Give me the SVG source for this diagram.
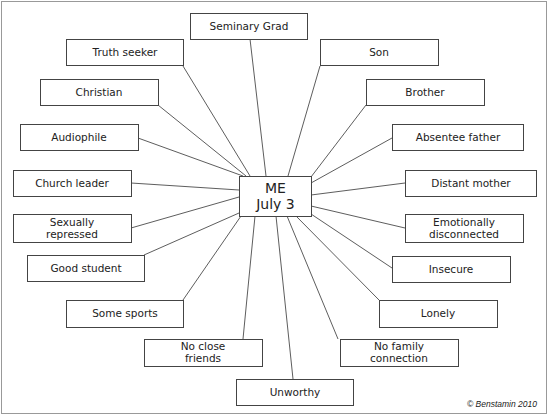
<svg xmlns="http://www.w3.org/2000/svg" width="550" height="419" viewBox="0 0 550 419">
<style>
.b rect{fill:#fff;stroke:#444;stroke-width:1}
.b text{font-family:"DejaVu Sans",sans-serif;font-size:10.5px;fill:#222;text-anchor:middle}
#connectors line{stroke:#333;stroke-width:0.8}
.me text{font-family:"DejaVu Sans",sans-serif;font-size:14px;fill:#222;text-anchor:middle}
</style>
<rect x="0" y="0" width="550" height="419" fill="#fff"/>
<rect x="1.5" y="1.5" width="545" height="412" fill="#fff" stroke="#999" stroke-width="1"/>
<g id="connectors">
<line x1="250" y1="39" x2="266" y2="176"/>
<line x1="183" y1="66" x2="250" y2="176"/>
<line x1="158" y1="105" x2="246" y2="176"/>
<line x1="138" y1="138" x2="243" y2="176"/>
<line x1="131" y1="183" x2="239" y2="190"/>
<line x1="131" y1="228" x2="239" y2="197"/>
<line x1="144" y1="255" x2="239" y2="213"/>
<line x1="183" y1="300" x2="241" y2="216"/>
<line x1="243" y1="339" x2="255" y2="216"/>
<line x1="293" y1="379" x2="276" y2="216"/>
<line x1="338" y1="339" x2="287" y2="216"/>
<line x1="379" y1="300" x2="296" y2="216"/>
<line x1="392" y1="268" x2="311" y2="214"/>
<line x1="405" y1="228" x2="311" y2="206"/>
<line x1="405" y1="183" x2="311" y2="195"/>
<line x1="392" y1="138" x2="311" y2="183"/>
<line x1="366" y1="105" x2="311" y2="177"/>
<line x1="320" y1="66" x2="288" y2="176"/>
</g>
<g id="me" class="b me"><rect x="239.5" y="176.5" width="72" height="40"/><text x="275.5" y="193">ME</text><text x="275.5" y="209">July 3</text></g>
<g id="seminary" class="b"><rect x="190.5" y="13.5" width="117" height="26"/><text x="249" y="30">Seminary Grad</text></g>
<g id="truth" class="b"><rect x="66.5" y="39.5" width="117" height="26"/><text x="125" y="56">Truth seeker</text></g>
<g id="son" class="b"><rect x="320.5" y="39.5" width="118" height="26"/><text x="379" y="56">Son</text></g>
<g id="christian" class="b"><rect x="40.5" y="79.5" width="118" height="26"/><text x="99" y="96">Christian</text></g>
<g id="brother" class="b"><rect x="366.5" y="79.5" width="118" height="26"/><text x="425" y="96">Brother</text></g>
<g id="audiophile" class="b"><rect x="20.5" y="124.5" width="118" height="26"/><text x="79" y="141">Audiophile</text></g>
<g id="absentee" class="b"><rect x="392.5" y="124.5" width="131" height="26"/><text x="458" y="141">Absentee father</text></g>
<g id="church" class="b"><rect x="13.5" y="170.5" width="118" height="26"/><text x="72" y="187">Church leader</text></g>
<g id="distant" class="b"><rect x="405.5" y="170.5" width="131" height="26"/><text x="471" y="187">Distant mother</text></g>
<g id="sexually" class="b"><rect x="13.5" y="214.5" width="118" height="28"/><text x="72" y="226">Sexually</text><text x="72" y="238">repressed</text></g>
<g id="emotionally" class="b"><rect x="405.5" y="214.5" width="118" height="28"/><text x="464" y="226">Emotionally</text><text x="464" y="238">disconnected</text></g>
<g id="good" class="b"><rect x="27.5" y="255.5" width="117" height="26"/><text x="86" y="272">Good student</text></g>
<g id="insecure" class="b"><rect x="392.5" y="256.5" width="118" height="26"/><text x="451" y="273">Insecure</text></g>
<g id="sports" class="b"><rect x="66.5" y="300.5" width="117" height="27"/><text x="125" y="317">Some sports</text></g>
<g id="lonely" class="b"><rect x="379.5" y="300.5" width="118" height="27"/><text x="438" y="317">Lonely</text></g>
<g id="noclose" class="b"><rect x="144.5" y="339.5" width="118" height="27"/><text x="203" y="350">No close</text><text x="203" y="362">friends</text></g>
<g id="nofamily" class="b"><rect x="340.5" y="339.5" width="118" height="27"/><text x="399" y="350">No family</text><text x="399" y="362">connection</text></g>
<g id="unworthy" class="b"><rect x="236.5" y="379.5" width="117" height="26"/><text x="295" y="396">Unworthy</text></g>
<text x="537" y="407" font-family="Liberation Sans, sans-serif" font-size="8.5" font-style="italic" fill="#222" text-anchor="end">© Benstamin 2010</text>
</svg>
